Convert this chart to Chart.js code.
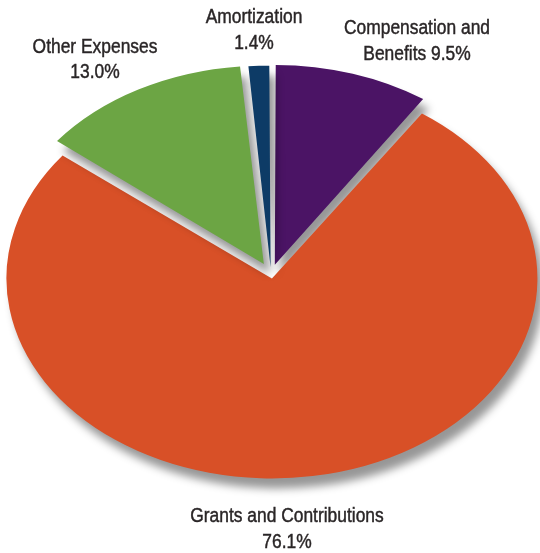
<!DOCTYPE html>
<html>
<head>
<meta charset="utf-8">
<script src="https://cdn.jsdelivr.net/npm/chart.js@4.4.1/dist/chart.umd.min.js"></script>
<style>
  html, body { margin: 0; padding: 0; background: #fff; }
  #wrap { width: 540px; height: 553px; position: relative; }
</style>
</head>
<body>
<div id="wrap"><canvas id="myChart" width="540" height="553"></canvas></div>
<script>
  // expense breakdown, clockwise from 12 o'clock
  const CATEGORIES = ["Compensation and Benefits", "Grants and Contributions", "Other Expenses", "Amortization"];
  const SHARES = [9.5, 76.1, 13.0, 1.4];
  const SLICE_COLORS = ["#4b1465", "#d85027", "#6ca544", "#0d3b66"];
  // chart.js moves a slice by offset/4 px (before the tilt scale below)
  const SLICE_OFFSETS = [48.5, 22.4, 56, 33.6];

  // how each label is broken into lines ({v} = percentage)
  const LABEL_LINES = [
    ["Compensation and", "Benefits {v}"],
    ["Grants and Contributions", "{v}"],
    ["Other Expenses", "{v}"],
    ["Amortization", "{v}"],
  ];
  const LABEL_POS = [[417, 34], [287, 522], [95, 52.5], [254, 23]];

  // pie is squashed into an ellipse to look tilted
  const PIE_CX = 271, PIE_CY = 274, PIE_R = 259.5, TILT = 0.753;

  const tiltPlugin = {
    id: "tilt",
    beforeDatasetsDraw(chart) {
      const ctx = chart.ctx;
      const arc = chart.getDatasetMeta(0).data[0];
      const s = PIE_R / arc.outerRadius;
      ctx.save();
      ctx.shadowColor = "rgba(0,0,0,0.41)";
      ctx.shadowBlur = 9;
      ctx.shadowOffsetX = 6;
      ctx.shadowOffsetY = 10;
      ctx.translate(PIE_CX, PIE_CY);
      ctx.scale(s, s * TILT);
      ctx.translate(-arc.x, -arc.y);
    },
    afterDatasetsDraw(chart) {
      chart.ctx.restore();
    },
  };

  // condensed look: regular face squeezed horizontally, a touch heavier
  const labelPlugin = {
    id: "sliceLabels",
    afterDraw(chart) {
      const ctx = chart.ctx;
      const squeeze = 0.87;
      ctx.save();
      ctx.fillStyle = "#2a2627";
      ctx.strokeStyle = "#2a2627";
      ctx.lineWidth = 0.45;
      ctx.font = '20px "Liberation Sans", Arial, sans-serif';
      ctx.textAlign = "center";
      ctx.textBaseline = "alphabetic";
      CATEGORIES.forEach((cat, i) => {
        const [x, y] = LABEL_POS[i];
        const pct = SHARES[i].toFixed(1) + "%";
        LABEL_LINES[i].forEach((line, j) => {
          const txt = line.replace("{v}", pct);
          ctx.save();
          ctx.translate(x, y + j * 25.5);
          ctx.scale(squeeze, 1);
          ctx.fillText(txt, 0, 0);
          ctx.strokeText(txt, 0, 0);
          ctx.restore();
        });
      });
      ctx.restore();
    },
  };

  const ctx = document.getElementById("myChart");
  const myChart = new Chart(ctx, {
    type: "pie",
    data: {
      labels: CATEGORIES,
      datasets: [
        {
          data: SHARES,
          backgroundColor: SLICE_COLORS,
          borderWidth: 0,
          offset: SLICE_OFFSETS,
          hoverOffset: 0,
          clip: false,
        },
      ],
    },
    options: {
      responsive: false,
      animation: false,
      devicePixelRatio: 1,
      layout: { padding: 0 },
      plugins: {
        legend: { display: false },
        tooltip: { enabled: false },
      },
    },
    plugins: [tiltPlugin, labelPlugin],
  });
</script>
</body>
</html>
